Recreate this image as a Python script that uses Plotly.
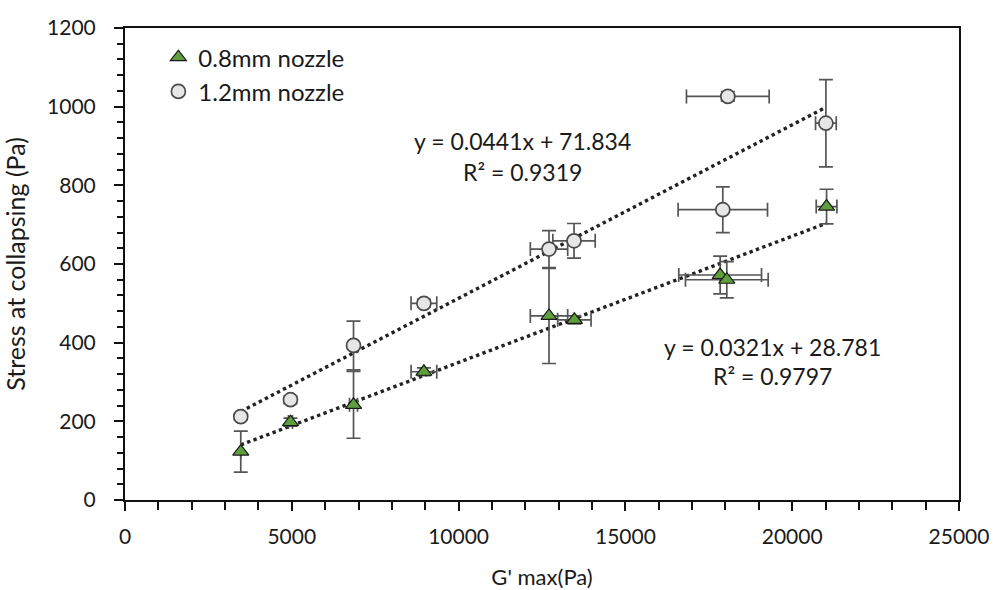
import plotly.graph_objects as go

# ---- data ----
# 0.8 mm nozzle (triangles)
x_08 = [3470, 4960, 6850, 8960, 12710, 13470, 17840, 18040, 21030]
y_08 = [123, 198, 242, 326, 468, 458, 572, 560, 746]
yerr_08 = [52, 10, 85, 10, 121, 10, 48, 46, 44]
xerr_08 = [0, 60, 120, 385, 560, 500, 1240, 1240, 310]

# 1.2 mm nozzle (circles)
x_12 = [3470, 4960, 6850, 8960, 12710, 13460, 17920, 18070, 21010]
y_12 = [212, 255, 393, 500, 638, 659, 738, 1026, 958]
yerr_12 = [8, 10, 62, 10, 47, 44, 58, 12, 111]
xerr_12 = [0, 0, 80, 385, 560, 635, 1340, 1240, 310]

# linear trendlines (as printed on the chart)
slope = {"08": 0.0321, "12": 0.0441}
intercept = {"08": 28.781, "12": 71.834}
eq_text = {"08": ["y = 0.0321x + 28.781", "R² = 0.9797"],
           "12": ["y = 0.0441x + 71.834", "R² = 0.9319"]}

series_names = {"08": "0.8mm nozzle", "12": "1.2mm nozzle"}

FONT = "Lato"
TXT = "#1a1a1a"
ERRC = "#555555"

fig = go.Figure()

# trendlines
for key, xs in (("12", x_12), ("08", x_08)):
    x0, x1 = min(xs), max(xs)
    fig.add_trace(go.Scatter(
        x=[x0, x1],
        y=[slope[key] * x0 + intercept[key], slope[key] * x1 + intercept[key]],
        mode="lines",
        line=dict(color="#222222", width=3.4, dash="dot"),
        showlegend=False, hoverinfo="skip"))

fig.add_trace(go.Scatter(
    x=x_08, y=y_08, mode="markers", name=series_names["08"],
    marker=dict(symbol="triangle-up", size=14, color="#5f9e3c",
                line=dict(color="#1a1a1a", width=1.2)),
    error_y=dict(type="data", array=yerr_08, color=ERRC, thickness=1.7, width=7),
    error_x=dict(type="data", array=xerr_08, color=ERRC, thickness=1.7, width=7),
))

fig.add_trace(go.Scatter(
    x=x_12, y=y_12, mode="markers", name=series_names["12"],
    marker=dict(symbol="circle", size=14, color="#e6e6e6",
                line=dict(color="#4a4a4a", width=1.7)),
    error_y=dict(type="data", array=yerr_12, color=ERRC, thickness=1.7, width=7),
    error_x=dict(type="data", array=xerr_12, color=ERRC, thickness=1.7, width=7),
))

# equation annotations
EQF = dict(family=FONT, size=23, color=TXT)
fig.add_annotation(x=11930, y=912, text=eq_text["12"][0], showarrow=False, font=EQF)
fig.add_annotation(x=11930, y=835, text=eq_text["12"][1], showarrow=False, font=EQF)
fig.add_annotation(x=19420, y=390, text=eq_text["08"][0], showarrow=False, font=EQF)
fig.add_annotation(x=19420, y=314, text=eq_text["08"][1], showarrow=False, font=EQF)

fig.update_layout(
    width=993, height=590,
    margin=dict(l=125, r=34, t=28, b=90),
    paper_bgcolor="white", plot_bgcolor="white",
    font=dict(family=FONT, size=21, color=TXT),
    legend=dict(x=0.04, y=0.985, xanchor="left", yanchor="top",
                bgcolor="rgba(0,0,0,0)", font=dict(size=24, color=TXT),
                itemwidth=30, tracegroupgap=0),
    showlegend=True,
)

fig.update_xaxes(
    range=[0, 25000], dtick=5000, tick0=0, tickformat="d",
    showgrid=False, zeroline=False, automargin=False,
    showline=True, linecolor="#111111", linewidth=2, mirror=True,
    ticks="outside", ticklen=9, tickwidth=2, tickcolor="#111111",
    minor=dict(ticks="outside", dtick=1000, ticklen=8, tickwidth=2, tickcolor="#111111"),
    ticklabelstandoff=8,
    tickfont=dict(family=FONT, size=21, color=TXT),
    title=dict(text="G' max(Pa)", font=dict(family=FONT, size=22, color=TXT), standoff=22),
)
fig.update_yaxes(
    range=[0, 1200], dtick=200, tick0=0,
    showgrid=False, zeroline=False, automargin=False,
    showline=True, linecolor="#111111", linewidth=2, mirror=True,
    ticks="outside", ticklen=9, tickwidth=2, tickcolor="#111111",
    minor=dict(ticks="outside", dtick=40, ticklen=6, tickwidth=2, tickcolor="#111111"),
    ticklabelstandoff=14,
    tickfont=dict(family=FONT, size=21, color=TXT),
    title=dict(text="Stress at collapsing (Pa)", font=dict(family=FONT, size=25, color=TXT), standoff=14),
)

fig.write_html(
    "out.html",
    config={"displayModeBar": False},
    post_script="document.body.style.margin='0';document.body.style.overflow='hidden';",
)
